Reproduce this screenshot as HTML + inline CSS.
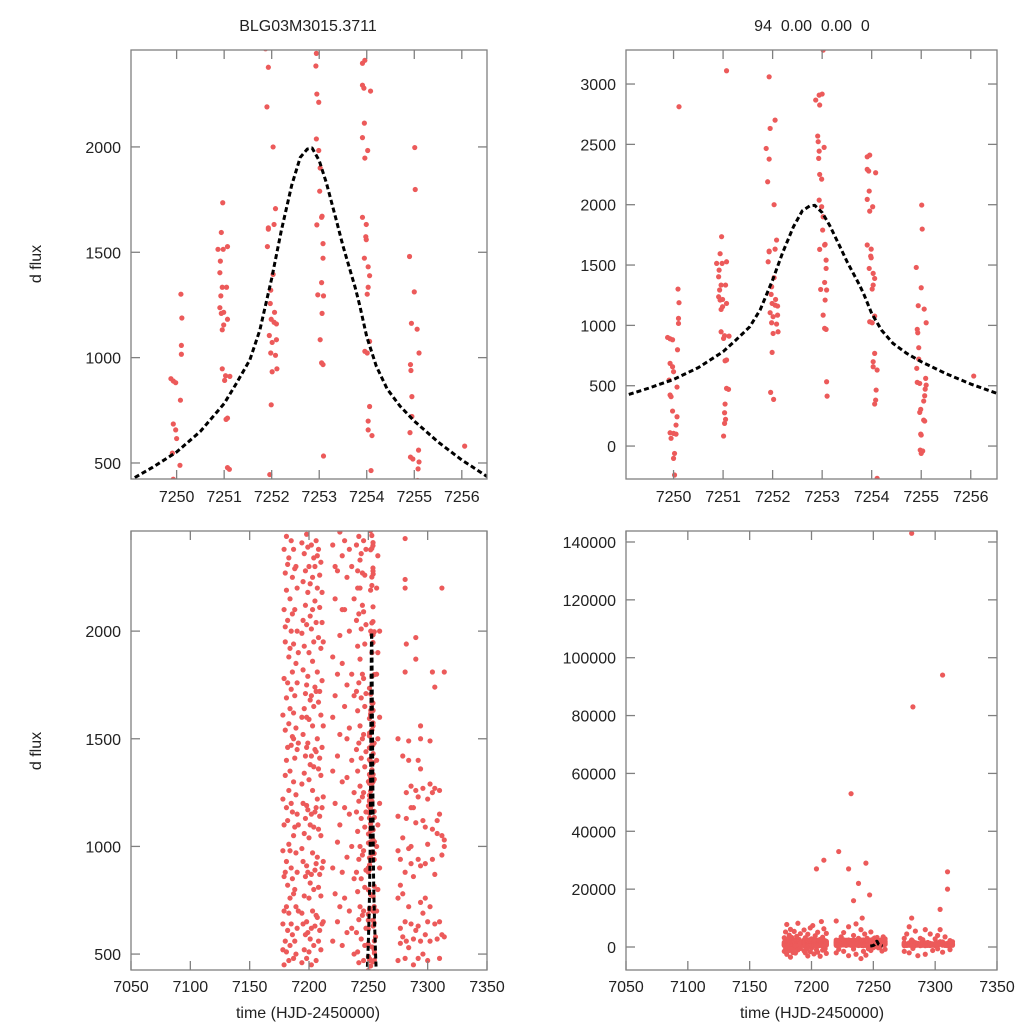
<!DOCTYPE html>
<html><head><meta charset="utf-8"><style>
html,body{margin:0;padding:0;background:#fff;width:1024px;height:1024px;overflow:hidden;}
svg{display:block;font-family:"Liberation Sans",sans-serif;}
</style></head><body>
<svg id="chart" width="1024" height="1024" viewBox="0 0 1024 1024" xmlns="http://www.w3.org/2000/svg">
<rect width="1024" height="1024" fill="#fff"/>
<text x="308" y="31" font-size="16" text-anchor="middle" fill="#222">BLG03M3015.3711</text>
<text x="812" y="31" font-size="16" text-anchor="middle" fill="#222" xml:space="preserve">94  0.00  0.00  0</text>
<text transform="translate(41,264) rotate(-90)" font-size="16" text-anchor="middle" fill="#222">d flux</text>
<text transform="translate(41,751) rotate(-90)" font-size="16" text-anchor="middle" fill="#222">d flux</text>
<text x="308" y="1018" font-size="16" text-anchor="middle" fill="#222">time (HJD-2450000)</text>
<text x="812" y="1018" font-size="16" text-anchor="middle" fill="#222">time (HJD-2450000)</text>
</svg>
<script>
// ---- data: zoomed peak region ----
const topT=[7250.11,7250.09,7250.11,7250.1,7250.1,7250.08,7249.88,7249.93,7249.98,7249.93,7249.98,7250,7249.91,7250.07,7249.93,7249.95,7249.98,7250.07,7250.05,7249.93,7250,7250.05,7249.95,7250.02,7250,7250.02,
7251.07,7250.97,7250.94,7250.87,7250.98,7251.07,7250.92,7250.91,7250.96,7251.05,7250.93,7250.91,7250.99,7250.94,7251.07,7250.99,7250.96,7250.96,7251.03,7251.01,7251.12,7251.07,7251.04,7251.07,7251.11,7251.04,7251.03,7251.05,7251.03,7251.01,
7251.93,7252.05,7251.95,7251.87,7251.93,7251.9,7251.93,7251.93,7252.05,7252.08,7251.91,7252.03,7251.98,7251.97,7252.06,7251.99,7252.05,7252.1,7251.95,7252.1,7252.01,7252.08,7251.98,7252.11,7252.01,7251.99,7251.96,7252.02,7252.03,
7253.02,7253,7252.94,7252.87,7252.95,7252.91,7252.92,7253.04,7252.94,7252.93,7252.95,7252.99,7252.94,7252.99,7253.02,7253.01,7253.06,7253.05,7252.95,7253.08,7253.08,7253.05,7252.97,7253.09,7253.06,7253.02,7253.05,7253.08,7253.09,7253.1,
7253.96,7253.91,7253.91,7253.94,7254.08,7253.95,7253.91,7254.02,7253.96,7253.91,7253.99,7253.98,7253.99,7253.95,7254.03,7254.06,7254.03,7254.01,7254.06,7253.96,7254.01,7254.06,7254.03,7254.03,7254.11,7254.09,7254.08,7254.06,7254.11,
7255.01,7255.02,7254.9,7255,7254.94,7255.06,7255.1,7254.92,7254.93,7254.95,7254.95,7254.91,7255.09,7254.92,7254.97,7255.1,7255.08,7255.07,7255.05,7254.99,7254.97,7255.05,7255.07,7254.99,7255,7254.98,7255.03,7255,7256.06];
const topF=[2812,1301,1188,1058,1016,798,900,889,881,685,657,616,547,489,423,409,290,243,174,110,105,99,64,-61,-102,-240,
3110,1735,1594,1514,1514,1527,1458,1403,1334,1334,1293,1237,1215,1210,1182,1155,1132,947,914,892,911,713,707,478,470,348,276,221,188,83,
3060,2701,2632,2466,2378,2190,1610,1616,1632,1707,1527,1395,1320,1257,1215,1182,1168,1160,1105,1085,1072,1011,1022,947,933,776,445,387,2000,
3281,2917,2908,2867,2826,2569,2522,2475,2444,2384,2251,2212,2038,1983,1900,1790,1671,1666,1630,1541,1472,1356,1298,1293,1210,1085,975,967,533,414,
2411,2397,2293,2279,2265,2113,2044,1983,1947,1666,1632,1574,1560,1472,1431,1389,1334,1301,1077,1030,1022,768,699,657,630,464,381,348,-268,
1997,1798,1480,1312,1163,1135,1022,967,939,815,721,644,561,528,519,505,472,417,373,304,279,215,207,99,91,-33,-41,-61,580];
// ---- data: model curve ----
const modelT=[7247.5,7248.5,7249.06,7249.5,7250,7250.5,7251,7251.25,7251.54,7251.75,7252,7252.2,7252.42,7252.6,7252.75,7252.85,7253,7253.15,7253.36,7253.5,7253.76,7253.85,7254,7254.2,7254.43,7254.7,7255,7255.5,7256,7256.2,7256.53,7257.5];
const modelF=[330,385,423,480,552,650,782,875,989,1130,1376,1600,1817,1950,1990,1995,1935,1830,1652,1530,1330,1250,1099,960,851,770,699,600,514,485,436,340];
// ---- data: full season (nights and flux per night) ----
const nights=[7178,7179,7180,7181,7182,7183,7184,7185,7186,7187,7188,7189,7190,7191,
7194,7195,7196,7197,7198,7199,7200,7201,7202,7203,7204,7205,7206,7207,7208,7209,7210,7211,7212,
7220,7222,7224,7226,7228,7230,7232,7234,7236,7238,
7240,7241,7242,7243,7244,7245,7246,7247,7248,7257,7258,7259.5,
7275,7277,7279,7281,7282,7284,7286,7288,7290,7292,7294,7296,7298,7300,7302,7304,7306,7308,7310,7312,7314];
const nightFlux=[
[1220,980,640,520,1610,-1500,3200],[2380,1780,1100,860,450,700,2100,-800,5200],[2270,2020,1540,1330,880,560,1950,400,-2500,7800],
[2440,2190,1690,1400,1180,930,720,510,-300,2800],[2050,1760,1460,1120,820,610,2310,-1200,4100],[2340,1880,1570,1260,1010,690,470,-3500,6100],
[2150,1640,1350,980,760,540,1920,3300,-600],[2420,2000,1730,1470,1200,900,640,-1900],[2250,1810,1510,1160,850,590,2080,5400,-400],
[2380,1940,1620,1300,1050,780,480,1500,-2100],[2100,1700,1410,1090,800,560,2290,3700],[2300,1850,1550,1240,970,720,500,-1000,8200],
[2200,1760,1450,1150,880,620,2000,2600],[1900,1480,1100,700,-500,4600],
[2410,1990,1600,1290,990,690,460,-1300,5900],[2230,1820,1520,1200,930,640,2050,3200,-2000],[2360,1930,1640,1340,1060,770,520,-700],
[2120,1710,1420,1130,860,590,2280,4400,-3100],[2450,2030,1750,1460,1190,910,650,480,1600],[2180,1790,1480,1170,880,600,2390,-1600,6600],
[2300,1900,1590,1310,1040,760,510,2800,-400],[2070,1680,1380,1100,830,570,2220,7400],[2400,2010,1700,1420,1150,870,620,450,-2400],
[2250,1860,1560,1260,970,700,2100,3900],[2340,1950,1650,1370,1090,800,540,-900,27000],[2140,1740,1450,1160,890,630,2300,5100,-1800],
[2420,2040,1720,1440,1180,920,680,470],[2200,1810,1500,1220,950,670,2350,2600,-3200],[2380,1970,1670,1360,1080,810,560,8800],
[2110,1720,1410,1140,870,610,2260,-1100,3400],[2320,1920,1610,1330,1050,770,520,6300,30000],[2180,1770,1460,1180,900,640,2040,-600],
[1950,1560,1230,930,650,4700,-2200],
[2400,1880,1350,900,560,1600,-2000,9000],[2150,1700,1200,780,2300,33000,-800],[2280,1800,1420,1020,650,3500],
[1980,1520,1100,720,2460,-1500,5000],[2350,1850,1300,880,540,2100],[2100,1650,1180,760,2420,27000,-3000,7000],
[2250,1750,1320,950,600,53000,1500],[2000,1550,1150,700,2380,-700,16000,4000],[2300,1800,1400,1000,620,8000,-2500],
[2150,1700,1250,850,500,22000,3000],
[2400,2050,1720,1450,1160,880,600,-4000,6000],[2280,1930,1630,1350,1070,790,510,2200,10000],[2440,2080,1760,1480,1210,940,660,460,-1500],
[2200,1870,1560,1280,1000,720,2330,4500],[2360,2010,1690,1410,1130,850,570,-2800,29000],[2120,1800,1500,1230,960,680,2270,3000],
[2420,2090,1780,1520,1250,980,700,470,-600],[2260,1940,1650,1370,1090,810,540,18000],[2380,2030,1710,1440,1160,890,620,-1200,5200],
[2200,1800,1400,1000,700,2600,-1400],[2350,1900,1500,1100,800,3500],[2000,1600,1200,900,-800,2800],
[1500,980,760,470,1140,-1500,3000],[940,820,550,620,4500],[1420,1040,780,580,-2000,7000],[2430,2240,1810,880,650,480,2200,10000,143000],
[1940,1250,1130,560,83000,-500],[1490,1400,990,720,530,5500],[1280,1180,920,640,1000,-3000],[1180,860,570,450,3000],
[1970,1870,1260,1110,610,2500],[1400,1230,940,630,480,-2500,6000],[1560,1360,910,740,560,1500],[1270,1120,690,500,4500],
[1090,920,760,590,-1200],[1220,1010,650,470,2800],[1490,1290,720,560,-600,4000],[1810,1250,1080,940,13000,6000],
[1740,1270,870,640,94000,-1800],[1120,1060,570,3500],[1260,1150,650,480,26000,20000],[1050,960,590,-900,2200],[1810,1030,580,1000]];
// ---- ticks ----
const xTicksZoom=[7250,7251,7252,7253,7254,7255,7256];
const xTicksFull=[7050,7100,7150,7200,7250,7300,7350];
const yTicksTL=[500,1000,1500,2000];
const yTicksTR=[0,500,1000,1500,2000,2500,3000];
const yTicksBL=[500,1000,1500,2000];
const yTicksBR=[0,20000,40000,60000,80000,100000,120000,140000];

const NS='http://www.w3.org/2000/svg';
const svg=document.getElementById('chart');
function mk(tag,attrs,parent){const e=document.createElementNS(NS,tag);for(const k in attrs)e.setAttribute(k,attrs[k]);(parent||svg).appendChild(e);return e;}

const panels=[
 {id:'top-left',x0:131,x1:487,y0:50,y1:479,t0:7249.04,t1:7256.53,f0:424,f1:2460,xt:xTicksZoom,yt:yTicksTL,full:false,labY:502},
 {id:'top-right',x0:626,x1:997,y0:50,y1:479,t0:7249.04,t1:7256.53,f0:-273,f1:3282,xt:xTicksZoom,yt:yTicksTR,full:false,labY:502},
 {id:'bottom-left',x0:131,x1:487,y0:531,y1:970,t0:7050,t1:7350,f0:426,f1:2465,xt:xTicksFull,yt:yTicksBL,full:true,labY:992},
 {id:'bottom-right',x0:626,x1:997,y0:531,y1:970,t0:7050,t1:7350,f0:-7950,f1:143800,xt:xTicksFull,yt:yTicksBR,full:true,labY:992}
];
const defs=mk('defs',{});
panels.forEach((p,i)=>{
  const sx=t=>p.x0+(t-p.t0)/(p.t1-p.t0)*(p.x1-p.x0);
  const sy=f=>p.y1-(f-p.f0)/(p.f1-p.f0)*(p.y1-p.y0);
  const cp=mk('clipPath',{id:'clip'+i},defs);
  mk('rect',{x:p.x0,y:p.y0,width:p.x1-p.x0,height:p.y1-p.y0},cp);
  const g=mk('g',{});
  
  
  const pts=mk('g',{'clip-path':'url(#clip'+i+')',fill:'#ec5a5a'},g);
  
  
  const addPt=(t,f)=>{const c=mk('circle',{cx:sx(t).toFixed(2),cy:sy(f).toFixed(2),r:2.6},pts);
    
    };
  if(p.full){nights.forEach((t,k)=>{(nightFlux[k]||[]).forEach(f=>addPt(t,f));});}
  topT.forEach((t,k)=>addPt(t,topF[k]));
  let d='';modelT.forEach((t,k)=>{d+=(k?'L':'M')+sx(t).toFixed(2)+','+sy(modelF[k]).toFixed(2);});
  const m=mk('path',{d:d,fill:'none',stroke:'#000','stroke-width':3,'stroke-dasharray':'5,3','stroke-linejoin':'round','clip-path':'url(#clip'+i+')'},g);
  
  
  const fr=mk('rect',{x:p.x0,y:p.y0,width:p.x1-p.x0,height:p.y1-p.y0,fill:'none',stroke:'#808080','stroke-width':1.3},g);
  
  
  p.xt.forEach(t=>{const x=sx(t);
    mk('line',{x1:x,x2:x,y1:p.y1,y2:p.y1-9,stroke:'#808080','stroke-width':1.3},g);
    mk('line',{x1:x,x2:x,y1:p.y0,y2:p.y0+9,stroke:'#808080','stroke-width':1.3},g);
    const tx=mk('text',{x:x,y:p.labY,'font-size':16,'text-anchor':'middle',fill:'#222'},g);tx.textContent=t;
    
    });
  p.yt.forEach(f=>{const y=sy(f);
    mk('line',{x1:p.x0,x2:p.x0+9,y1:y,y2:y,stroke:'#808080','stroke-width':1.3},g);
    mk('line',{x1:p.x1,x2:p.x1-9,y1:y,y2:y,stroke:'#808080','stroke-width':1.3},g);
    const tx=mk('text',{x:p.x0-10,y:y+6,'font-size':16,'text-anchor':'end',fill:'#222'},g);tx.textContent=f;
    
    });
});
</script>
</body></html>
